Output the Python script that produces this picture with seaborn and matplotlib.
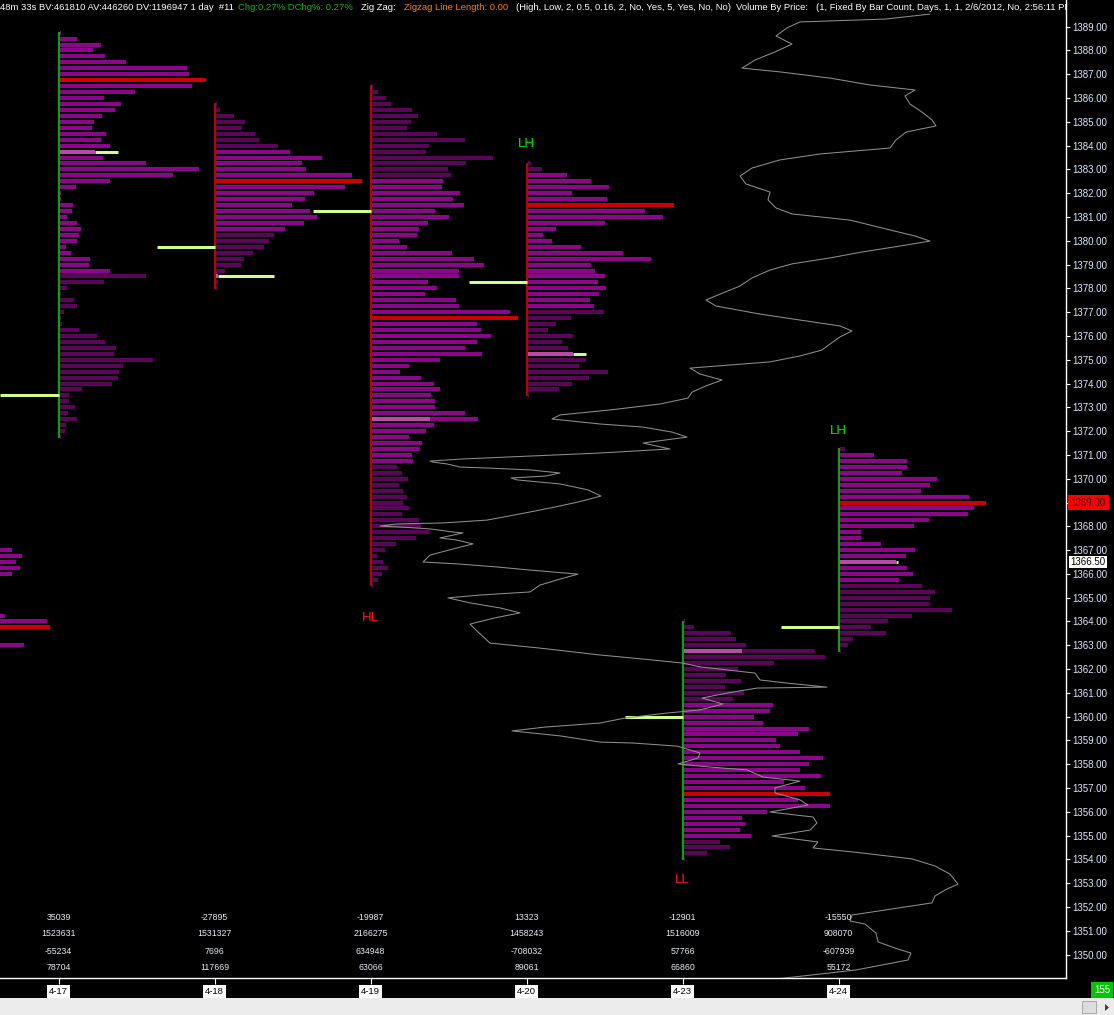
import numpy as np
import pandas as pd
import matplotlib
matplotlib.use("Agg")
import matplotlib.pyplot as plt
import matplotlib.transforms as mtransforms
from matplotlib.patches import Rectangle, Polygon
from matplotlib import font_manager
import seaborn as sns

# ---------------------------------------------------------------- data
dates = ["4-17", "4-18", "4-19", "4-20", "4-23", "4-24"]
day_up = [True, False, False, False, True, True]
price_step = 0.25

# volume-by-price per day (top price first, one value per 0.25)
vol_0417 = [1, 17, 41, 33, 45, 66, 127, 129, 146, 132, 75, 44, 61, 55, 42, 34, 32, 46, 41, 50,
            35, 43, 86, 139, 113, 50, 16, 1, 1, 13, 12, 7, 17, 21, 19, 17, 6, 11, 30, 29,
            50, 86, 44, 7, 1, 14, 17, 4, 1, 2, 19, 37, 45, 56, 54, 93, 63, 59, 58, 52,
            22, 9, 9, 15, 8, 17, 6, 5, 1]
vol_0418 = [1, 4, 18, 29, 26, 39, 43, 62, 74, 106, 86, 90, 136, 146, 129, 98, 89, 76, 94, 101,
            88, 69, 58, 53, 48, 37, 28, 25, 9, 2, 2, 1]
vol_0419 = [1, 6, 14, 19, 40, 46, 39, 35, 65, 93, 57, 54, 121, 94, 76, 79, 71, 70, 88, 81,
            92, 63, 77, 56, 47, 45, 27, 35, 80, 102, 112, 87, 87, 56, 65, 53, 84, 87, 138, 146,
            105, 109, 119, 105, 93, 110, 68, 37, 28, 49, 62, 68, 59, 63, 63, 93, 106, 62, 54, 37,
            50, 48, 40, 41, 25, 30, 36, 27, 31, 35, 31, 37, 30, 47, 49, 57, 44, 24, 13, 5,
            11, 16, 10, 6, 1]
vol_0420 = [3, 14, 39, 63, 81, 44, 79, 146, 117, 135, 77, 28, 15, 24, 53, 95, 123, 63, 67, 77,
            70, 78, 71, 62, 66, 76, 43, 28, 20, 45, 34, 40, 45, 58, 51, 80, 61, 44, 31, 1]
vol_0423 = [1, 10, 47, 52, 62, 131, 141, 90, 54, 42, 57, 41, 60, 49, 89, 86, 70, 79, 125, 114,
            92, 96, 116, 139, 125, 116, 137, 100, 121, 146, 114, 146, 83, 58, 61, 56, 67, 36, 46, 23,
            1]
vol_0424 = [5, 34, 67, 67, 62, 97, 90, 81, 129, 146, 134, 128, 89, 74, 21, 21, 41, 75, 66, 56,
            67, 73, 59, 82, 95, 90, 89, 112, 72, 48, 31, 46, 13, 8, 1]

day_highs = [1388.75, 1385.75, 1386.5, 1383.25, 1364.0, 1371.25]
poc_prices = [1386.75, 1382.5, 1376.75, 1381.5, 1356.75, 1369.0]
va_high = [1388.75, 1383.75, 1382.5, 1382.75, 1360.5, 1371.0]
va_low = [1378.75, 1380.5, 1370.75, 1377.25, 1355.0, 1365.75]
open_prices = [1373.5, 1379.75, 1381.25, 1378.25, 1360.0, 1363.75]
mark_prices = [1383.75, 1378.5, 1372.5, 1375.25, 1362.75, 1366.5]
mark_fill = [0.60, 0.04, 1.0, 0.78, 1.0, 0.97]

# previous session (4-16), only its visible part
prev_prices = [1367.0, 1366.75, 1366.5, 1366.25, 1366.0, 1364.25, 1364.0, 1363.75, 1363.0]
prev_vols = [108, 118, 112, 116, 108, 101, 143, 146, 120]
prev_poc = 1363.75

stat_rows = [
    [35039, -27895, -19987, 13323, -12901, -15550],
    [1523631, 1531327, 2166275, 1458243, 1516009, 908070],
    [-55234, 7696, 634948, -708032, 57766, -607939],
    [78704, 117669, 63066, 89061, 66860, 55172],
]

swing_labels = ["HL", "LH", "LH", "LL"]
swing_days = [2, 3, 5, 4]
swing_prices = [1364.15, 1384.07, 1372.0, 1353.14]
swing_is_high = [False, True, True, False]

# composite volume-by-price outline (price, volume measured from left edge)
comp_prices = [
    1389.53, 1389.32, 1389.20, 1388.95, 1388.61, 1388.27, 1387.94, 1387.60, 1387.26, 1387.10,
    1386.84, 1386.55, 1386.34, 1386.09, 1385.75, 1385.41, 1385.08, 1384.83, 1384.57, 1384.24,
    1383.90, 1383.65, 1383.40, 1383.06, 1382.72, 1382.39, 1382.05, 1381.72, 1381.38, 1381.13,
    1380.87, 1380.54, 1380.20, 1379.99, 1379.78, 1379.53, 1379.28, 1379.03, 1378.77, 1378.44,
    1378.10, 1377.76, 1377.51, 1377.26, 1376.92, 1376.67, 1376.42, 1376.21, 1375.96, 1375.66,
    1375.41, 1375.16, 1374.91, 1374.65, 1374.40, 1374.15, 1373.90, 1373.64, 1373.39, 1373.14,
    1372.89, 1372.68, 1372.51, 1372.30, 1372.17, 1371.96, 1371.75, 1371.50, 1371.25, 1371.08,
    1370.95, 1370.83, 1370.74, 1370.70, 1370.62, 1370.49, 1370.45, 1370.37, 1370.24, 1370.11,
    1370.03, 1369.95, 1369.78, 1369.53, 1369.27, 1369.02, 1368.81, 1368.60, 1368.26, 1368.14,
    1368.10, 1368.01, 1367.97, 1367.89, 1367.76, 1367.72, 1367.51, 1367.42, 1367.26, 1367.09,
    1366.79, 1366.50, 1366.42, 1366.29, 1366.16, 1365.99, 1365.78, 1365.53, 1365.24, 1365.11,
    1364.99, 1364.78, 1364.57, 1364.36, 1364.15, 1363.89, 1363.56, 1363.09, 1362.88, 1362.59,
    1362.42, 1362.25, 1362.09, 1361.83, 1361.54, 1361.41, 1361.24, 1361.20, 1360.99, 1360.78,
    1360.53, 1360.28, 1360.15, 1359.94, 1359.73, 1359.56, 1359.40, 1359.19, 1358.93, 1358.89,
    1358.76, 1358.47, 1358.26, 1358.01, 1357.88, 1357.76, 1357.46, 1357.29, 1357.00, 1356.79,
    1356.50, 1356.28, 1355.99, 1355.78, 1355.53, 1355.23, 1354.98, 1354.73, 1354.48, 1354.31,
    1354.02, 1353.72, 1353.38, 1352.96, 1352.71, 1352.46, 1352.17, 1351.66, 1351.41, 1351.28,
    1350.90, 1350.53, 1350.27, 1350.06, 1349.77, 1349.35, 1349.06, 1348.72]
comp_vol = [
    930, 885, 800, 787, 776, 792, 775, 755, 742, 780,
    830, 870, 915, 905, 910, 922, 932, 936, 906, 896,
    890, 820, 780, 752, 740, 746, 770, 768, 776, 792,
    850, 882, 915, 930, 900, 862, 830, 792, 770, 752,
    740, 720, 706, 716, 760, 800, 840, 852, 840, 830,
    822, 800, 770, 690, 700, 722, 706, 692, 688, 660,
    610, 560, 552, 600, 643, 672, 687, 643, 670, 600,
    530, 463, 430, 433, 447, 460, 487, 530, 560, 545,
    511, 517, 560, 588, 601, 578, 555, 530, 487, 443,
    397, 380, 400, 430, 453, 463, 440, 457, 473, 457,
    430, 423, 457, 497, 530, 578, 560, 540, 530, 480,
    448, 470, 500, 520, 495, 470, 478, 490, 540, 600,
    643, 683, 700, 755, 760, 787, 827, 757, 727, 702,
    723, 700, 667, 625, 600, 545, 512, 560, 600, 633,
    677, 700, 698, 678, 710, 747, 763, 800, 775, 775,
    800, 808, 770, 813, 817, 810, 772, 818, 813, 853,
    912, 935, 950, 958, 945, 935, 932, 852, 850, 865,
    876, 878, 895, 911, 908, 856, 795, 720]

last_price = 1366.5
bar_count = 155

header_parts = [
    ("48m 33s BV:461810 AV:446260 DV:1196947 1 day  #11", "#ffffff", 1.5),
    ("Chg:0.27% DChg%: 0.27%", "#14b814", 3.0),
    ("Zig Zag:", "#ffffff", 3.0),
    ("Zigzag Line Length: 0.00", "#ff7a12", 3.0),
    ("(High, Low, 2, 0.5, 0.16, 2, No, Yes, 5, Yes, No, No)", "#ffffff", 2.0),
    ("Volume By Price:", "#ffffff", 3.0),
    ("(1, Fixed By Bar Count, Days, 1, 1, 2/6/2012, No, 2:56:11 PM)", "#ffffff", 0.0),
]

# ---------------------------------------------------------------- style
sns.set_theme(style="dark")
_names = {f.name for f in font_manager.fontManager.ttflist}
HAS_NARROW = "Liberation Sans Narrow" in _names
REG = "Liberation Sans"
NAR = "Liberation Sans Narrow" if HAS_NARROW else REG
plt.rcParams["font.family"] = [REG, "DejaVu Sans"]

BRIGHT = "#8b068b"
DARK = "#5a045a"
RED = "#cc0000"
PINK = "#b84aaa"
LIME = "#ccff8c"
UP = "#00e600"
DOWN = "#ff0000"

W, H, DPI = 1114, 1015, 100
PLOT_R, PLOT_B = 1066, 978
PX_DAY = 156.0
X0 = 58.5
PX_PT = 23.79
Y_TOP = 1389 + 26.7 / PX_PT

fig = plt.figure(figsize=(W / DPI, H / DPI), dpi=DPI, facecolor="black")
ax = fig.add_axes([0, (H - PLOT_B) / H, PLOT_R / W, PLOT_B / H])
ax.set_facecolor("black")
x_left = -X0 / PX_DAY
x_right = (PLOT_R - X0) / PX_DAY
ax.set_xlim(x_left, x_right)
ax.set_ylim(Y_TOP - PLOT_B / PX_PT, Y_TOP)

BAR_H = 4.0 / PX_PT
BAR_OFF = 1.5 / PX_DAY
MARK_W = 58.0 / PX_DAY
LW_PX = 72.0 / DPI

profiles = [vol_0417, vol_0418, vol_0419, vol_0420, vol_0423, vol_0424]

# previous session bars
pcols = [RED if abs(p - prev_poc) < 1e-6 else BRIGHT for p in prev_prices]
ax.barh(prev_prices, np.array(prev_vols) / PX_DAY, left=-1 + BAR_OFF, height=BAR_H,
        color=pcols, linewidth=0, zorder=3)

for d, vols in enumerate(profiles):
    prices = day_highs[d] - price_step * np.arange(len(vols))
    cols = []
    for p in prices:
        if abs(p - poc_prices[d]) < 1e-6:
            cols.append(RED)
        elif va_low[d] - 1e-6 <= p <= va_high[d] + 1e-6:
            cols.append(BRIGHT)
        else:
            cols.append(DARK)
    ax.barh(prices, np.array(vols) / PX_DAY, left=d + BAR_OFF, height=BAR_H,
            color=cols, linewidth=0, zorder=3)
    low = prices[-1]
    ax.vlines(d, low - 0.03, day_highs[d] + 0.03, color=UP if day_up[d] else DOWN,
              lw=1.5 * LW_PX, zorder=4)
    # opening tick
    ax.hlines(open_prices[d], d - MARK_W, d, color=LIME, lw=3 * LW_PX, zorder=4)
    # closing marker
    f = mark_fill[d]
    ax.barh([mark_prices[d]], [f * MARK_W], left=d + BAR_OFF, height=BAR_H,
            color=PINK, linewidth=0, zorder=5)
    if f < 1:
        ax.hlines(mark_prices[d], d + BAR_OFF + f * MARK_W, d + BAR_OFF + MARK_W,
                  color=LIME, lw=3 * LW_PX, zorder=5)

# composite profile outline
comp_df = pd.DataFrame({"x": x_left + np.array(comp_vol) / PX_DAY, "price": comp_prices})
sns.lineplot(data=comp_df, x="x", y="price", sort=False, estimator=None, ax=ax,
             color="#8e8e8e", lw=0.75, zorder=6)
ax.set_xlabel("")
ax.set_ylabel("")

# swing labels
for lab, d, p, hi in zip(swing_labels, swing_days, swing_prices, swing_is_high):
    ax.text(d, p, lab, color="#00ee00" if hi else "#ff1a1a", fontsize=9.5,
            ha="center", va="center", zorder=7)

# stats rows
trans_xa = mtransforms.blended_transform_factory(ax.transData, ax.transAxes)
row_y = [(PLOT_B - y) / PLOT_B for y in (917, 934, 951, 968)]
stat_fs = 7.4 if HAS_NARROW else 6.3
for r, vals in enumerate(stat_rows):
    for d, v in enumerate(vals):
        ax.text(d, row_y[r], f"{v}", transform=trans_xa, ha="center", va="center",
                fontsize=stat_fs, color="#e8ecf4", family=NAR, zorder=7)

# axes styling
ax.grid(False)
for s in ("top", "left"):
    ax.spines[s].set_visible(False)
for s in ("right", "bottom"):
    ax.spines[s].set_visible(True)
    ax.spines[s].set_color("white")
    ax.spines[s].set_linewidth(1.0)
ax.yaxis.tick_right()
yt = np.arange(1350, 1390)
ax.set_yticks(yt)
ax.set_yticklabels([f"{v:.2f}" for v in yt])
ax.tick_params(axis="y", which="both", right=True, labelright=True, left=False, labelleft=False,
               colors="white", labelcolor="#dfe9ff", labelsize=7, length=3, width=0.8,
               pad=1.5, direction="out")
ax.set_xticks(range(len(dates)))
ax.set_xticklabels(dates)
ax.tick_params(axis="x", bottom=True, colors="white", labelcolor="black", labelsize=6.8,
               length=4, width=0.8, pad=2.6, direction="out")
for lab in ax.get_xticklabels():
    lab.set_bbox(dict(boxstyle="square,pad=0.22", fc="white", ec="none"))

# price boxes on the right axis
trans_r = mtransforms.blended_transform_factory(ax.transAxes, ax.transData)
ax.text(1 + 4.5 / PLOT_R, poc_prices[-1], f"{poc_prices[-1]:.2f}", transform=trans_r,
        ha="left", va="center", fontsize=7, color="#2a0000", clip_on=False, zorder=10,
        bbox=dict(boxstyle="square,pad=0.3", fc="#ff0000", ec="none"))
ax.text(1 + 4.5 / PLOT_R, last_price, f"{last_price:.2f}", transform=trans_r,
        ha="left", va="center", fontsize=7, color="black", clip_on=False, zorder=10,
        bbox=dict(boxstyle="square,pad=0.12", fc="white", ec="none"))

# header text, fitted to the plot width
renderer = fig.canvas.get_renderer()


def measure(s, fs):
    t = fig.text(0, 0, s, fontsize=fs, family=NAR)
    w = t.get_window_extent(renderer).width
    t.remove()
    return w


fs0 = 8.0
space_em = 0.23 if HAS_NARROW else 0.278
em0 = fs0 * DPI / 72
total = 0.0
for i, (s, c, g) in enumerate(header_parts):
    ss = s if i < len(header_parts) - 1 else s[:-2]
    total += measure(ss, fs0) + g * space_em * em0
hfs = fs0 * 1064.0 / total
em = hfs * DPI / 72
xpos = 0.5
for s, c, g in header_parts:
    t = fig.text(xpos / W, 1 - 7.5 / H, s, fontsize=hfs, color=c, family=NAR,
                 ha="left", va="center")
    t.set_clip_box(ax.bbox)
    t.set_clip_on(True)
    xpos += t.get_window_extent(renderer).width + g * space_em * em

# bottom strip and widgets
fig.add_artist(Rectangle((0, 0), 1, 17 / H, transform=fig.transFigure, fc="#ececec",
                         ec="none", zorder=0))
fig.add_artist(Rectangle((1082 / W, 2 / H), 14 / W, 12 / H, transform=fig.transFigure,
                         fc="#dcdcdc", ec="#a8a8a8", lw=0.7, zorder=1))
fig.add_artist(Polygon([[1105 / W, 4 / H], [1105 / W, 11 / H], [1109 / W, 7.5 / H]],
                       closed=True, transform=fig.transFigure, fc="#404040", ec="none",
                       zorder=1))
fig.text(1102 / W, 1 - 990 / H, f"{bar_count}", fontsize=7, color="white", ha="center",
         va="center", bbox=dict(boxstyle="square,pad=0.35", fc="#00c800", ec="none"))

fig.savefig("out.png", dpi=DPI, facecolor="black")
